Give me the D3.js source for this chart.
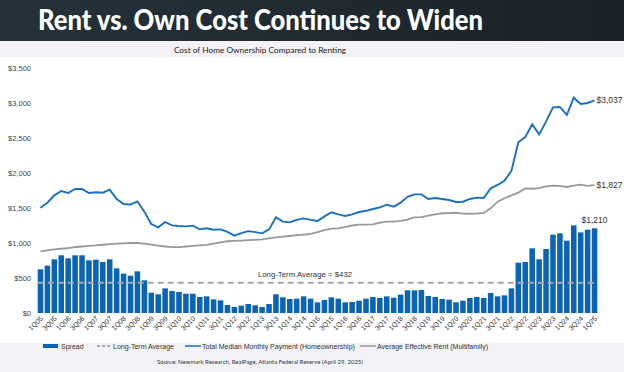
<!DOCTYPE html>
<html>
<head>
<meta charset="utf-8">
<script src="https://cdn.jsdelivr.net/npm/d3@7"></script>
<style>
  body { margin: 0; background: #fff; }
  svg { display: block; font-family: "Liberation Sans", Arial, sans-serif; }
</style>
</head>
<body>
<div id="chart"></div>
<script>
// quarters 1Q05 .. 1Q25
const quarters = [];
for (let y = 5; y <= 25; y++) {
  for (let q = 1; q <= 4; q++) {
    if (y === 25 && q > 1) break;
    quarters.push(q + 'Q' + String(y).padStart(2, '0'));
  }
}

// Total Median Monthly Payment (Homeownership)
const ownCost = [
  1504, 1576, 1681, 1743, 1714, 1771, 1771, 1714, 1724, 1719,
  1762, 1629, 1557, 1548, 1595, 1448, 1271, 1224, 1300, 1252,
  1243, 1238, 1248, 1195, 1210, 1190, 1195, 1160, 1105, 1140,
  1170, 1155, 1138, 1195, 1367, 1305, 1295, 1330, 1352, 1330,
  1314, 1380, 1438, 1410, 1386, 1410, 1443, 1460, 1486, 1510,
  1548, 1519, 1576, 1660, 1695, 1695, 1629, 1643, 1629, 1614,
  1586, 1590, 1629, 1648, 1643, 1781, 1829, 1890, 2029, 2438,
  2514, 2695, 2552, 2733, 2938, 2943, 2829, 3076, 2986, 3000,
  3037
];

// Average Effective Rent (Multifamily)
const rentCost = [
  880, 895, 910, 918, 928, 940, 950, 958, 965, 975,
  985, 990, 995, 1000, 1000, 990, 978, 962, 950, 942,
  940, 950, 960, 965, 972, 990, 1010, 1025, 1030, 1035,
  1040, 1045, 1052, 1066, 1080, 1090, 1100, 1112, 1120, 1130,
  1155, 1185, 1205, 1210, 1230, 1250, 1262, 1262, 1265, 1290,
  1305, 1305, 1315, 1335, 1365, 1370, 1390, 1410, 1425, 1428,
  1432, 1420, 1418, 1420, 1430, 1495, 1590, 1640, 1680, 1720,
  1780, 1775, 1785, 1810, 1820, 1815, 1800, 1820, 1835, 1815,
  1827
];

// Spread (bars)
const spread = [
  624, 676, 767, 824, 781, 824, 824, 752, 762, 729,
  767, 638, 562, 533, 595, 467, 290, 267, 352, 314,
  300, 276, 276, 229, 238, 195, 181, 114, 86, 105,
  129, 110, 86, 129, 267, 224, 200, 205, 238, 205,
  152, 186, 224, 205, 152, 157, 176, 205, 229, 214,
  238, 219, 262, 324, 324, 329, 243, 229, 200, 190,
  152, 176, 214, 229, 214, 286, 238, 252, 352, 719,
  729, 924, 767, 914, 1119, 1138, 1033, 1252, 1152, 1190,
  1210
];

const longTermAvg = 432;
const yTicks = [0, 500, 1000, 1500, 2000, 2500, 3000, 3500];

const W = 624, H = 372;
const svg = d3.select('#chart').append('svg')
  .attr('width', W)
  .attr('height', H);

// header
const grad = svg.append('defs').append('linearGradient')
  .attr('id', 'hdr').attr('x1', 0).attr('x2', 1).attr('y1', 0).attr('y2', 0);
grad.append('stop').attr('offset', '0%').attr('stop-color', '#25323a');
grad.append('stop').attr('offset', '100%').attr('stop-color', '#1b2227');

svg.append('rect').attr('x', 0).attr('y', 0).attr('width', W).attr('height', 41).attr('fill', 'url(#hdr)');
svg.append('text')
  .attr('x', 38).attr('y', 30)
  .attr('fill', '#fff')
  .attr('textLength', 445)
  .attr('lengthAdjust', 'spacingAndGlyphs')
  .style('font-family', 'Lato, sans-serif')
  .style('font-weight', 900)
  .style('font-size', '28px')
  .text('Rent vs. Own Cost Continues to Widen');

svg.append('rect').attr('x', 0).attr('y', 41).attr('width', W).attr('height', 16).attr('fill', '#f3f3f7');
svg.append('text')
  .attr('x', 260).attr('y', 52.5)
  .attr('text-anchor', 'middle')
  .attr('fill', '#222')
  .style('font-family', 'Lato, sans-serif')
  .style('font-size', '8.3px')
  .text('Cost of Home Ownership Compared to Renting');

// footer
svg.append('rect').attr('x', 0).attr('y', 343).attr('width', W).attr('height', H - 343).attr('fill', '#f3f3f7');
svg.append('text')
  .attr('x', 260).attr('y', 364)
  .attr('text-anchor', 'middle')
  .attr('fill', '#333')
  .style('font-family', 'Lato, sans-serif')
  .style('font-size', '6px')
  .text('Source: Newmark Research, RealPage, Atlanta Federal Reserve (April 29, 2025)');

// scales
const x = d3.scaleBand()
  .domain(quarters)
  .range([37, 598])
  .paddingInner(0.2)
  .paddingOuter(0.1);

const y = d3.scaleLinear()
  .domain([0, 3500])
  .range([313, 68]);

const cx = d => x(d) + x.bandwidth() / 2;

// y axis labels
svg.append('g')
  .selectAll('text')
  .data(yTicks)
  .join('text')
  .attr('x', 31)
  .attr('y', d => y(d) + 3)
  .attr('text-anchor', 'end')
  .attr('fill', '#444')
  .style('font-size', '7.5px')
  .text(d => d3.format('$,')(d));

// bars
svg.append('g')
  .selectAll('rect')
  .data(spread)
  .join('rect')
  .attr('x', (d, i) => x(quarters[i]))
  .attr('y', d => y(d))
  .attr('width', x.bandwidth())
  .attr('height', d => y(0) - y(d))
  .attr('fill', '#0a63b3');

// long-term average
svg.append('line')
  .attr('x1', x(quarters[0])).attr('x2', x(quarters[quarters.length - 1]) + x.bandwidth())
  .attr('y1', y(longTermAvg)).attr('y2', y(longTermAvg))
  .attr('stroke', '#a6a6a6')
  .attr('stroke-width', 2)
  .attr('stroke-dasharray', '6,4');

svg.append('text')
  .attr('x', 305).attr('y', y(longTermAvg) - 6)
  .attr('text-anchor', 'middle')
  .attr('fill', '#333')
  .style('font-size', '7.8px')
  .text('Long-Term Average = $432');

// lines
const line = d3.line()
  .x((d, i) => cx(quarters[i]))
  .y(d => y(d));

svg.append('path')
  .datum(rentCost)
  .attr('d', line)
  .attr('fill', 'none')
  .attr('stroke', '#999')
  .attr('stroke-width', 1.8);

svg.append('path')
  .datum(ownCost)
  .attr('d', line)
  .attr('fill', 'none')
  .attr('stroke', '#1a6fc4')
  .attr('stroke-width', 1.9);

// end labels
const last = quarters.length - 1;
const endLabels = [
  { v: ownCost[last], dx: 2, dy: 3, anchor: 'start' },
  { v: rentCost[last], dx: 2, dy: 3, anchor: 'start' },
  { v: spread[last], dx: 0, dy: -5, anchor: 'middle' }
];
svg.append('g')
  .selectAll('text')
  .data(endLabels)
  .join('text')
  .attr('x', d => cx(quarters[last]) + d.dx)
  .attr('y', d => y(d.v) + d.dy)
  .attr('text-anchor', d => d.anchor)
  .attr('fill', '#333')
  .style('font-size', '8.5px')
  .text(d => d3.format('$,')(d.v));

// x labels, every other quarter
svg.append('g')
  .selectAll('text')
  .data(quarters.filter((d, i) => i % 2 === 0))
  .join('text')
  .attr('transform', d => `translate(${cx(d) + 3},${319}) rotate(-45)`)
  .attr('text-anchor', 'end')
  .attr('fill', '#333')
  .style('font-size', '7px')
  .text(d => d);

// legend
const lg = svg.append('g').attr('transform', 'translate(0,346)');
lg.append('rect').attr('x', 43).attr('y', -2).attr('width', 15).attr('height', 4).attr('fill', '#0a63b3');
lg.append('line').attr('x1', 97).attr('x2', 111).attr('y1', 0).attr('y2', 0)
  .attr('stroke', '#999').attr('stroke-width', 1.3).attr('stroke-dasharray', '3,2');
lg.append('line').attr('x1', 185).attr('x2', 201).attr('y1', 0).attr('y2', 0)
  .attr('stroke', '#1a6fc4').attr('stroke-width', 1.5);
lg.append('line').attr('x1', 360).attr('x2', 376).attr('y1', 0).attr('y2', 0)
  .attr('stroke', '#999').attr('stroke-width', 1.5);
const legendText = [
  { x: 61, t: 'Spread' },
  { x: 113, t: 'Long-Term Average' },
  { x: 202, t: 'Total Median Monthly Payment (Homeownership)' },
  { x: 377, t: 'Average Effective Rent (Multifamily)' }
];
lg.selectAll('text.lt')
  .data(legendText)
  .join('text')
  .attr('class', 'lt')
  .attr('x', d => d.x)
  .attr('y', 2.5)
  .attr('fill', '#333')
  .style('font-size', '7px')
  .text(d => d.t);
</script>
</body>
</html>
